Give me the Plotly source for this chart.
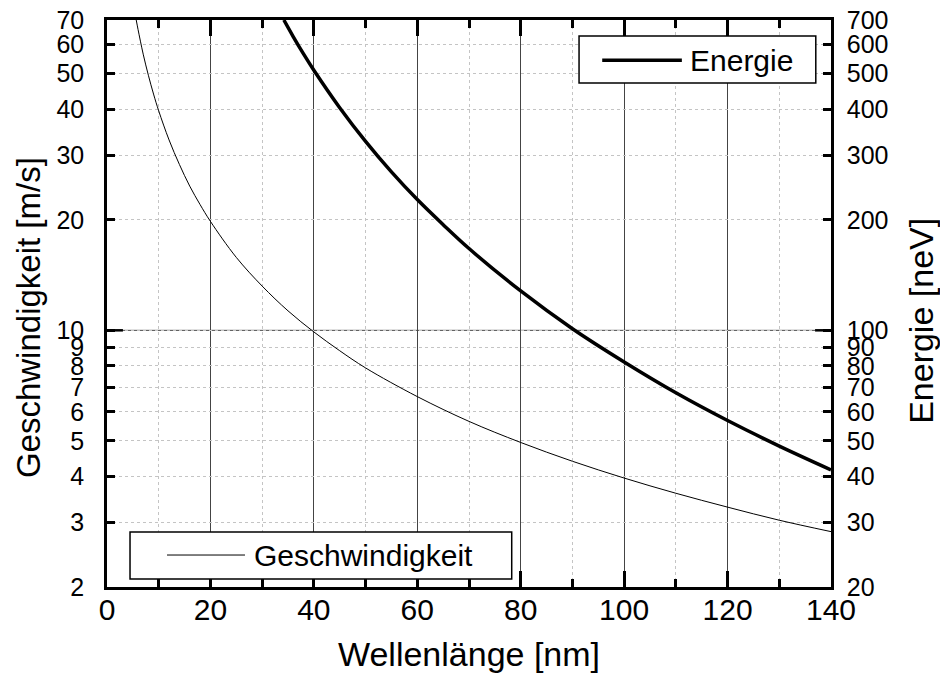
import numpy as np
import plotly.graph_objects as go

# Wavelength [nm] and velocity [m/s]
lam_v = [5.65, 6, 7, 8, 9, 10, 12, 14, 16, 18, 20, 25, 30, 35, 40, 45, 50, 60, 70, 80, 90, 100, 110, 120, 130, 140]
vel = [70, 66, 56.5, 49.5, 44, 39.6, 33, 28.3, 24.7, 22, 19.8, 15.8, 13.2, 11.3, 9.9, 8.8, 7.9, 6.6, 5.65, 4.95, 4.4, 3.96, 3.6, 3.3, 3.04, 2.83]

# Wavelength [nm] and energy [neV]
lam_e = [34.2, 36, 38, 40, 45, 50, 55, 60, 65, 70, 80, 90, 100, 110, 120, 130, 140]
energy = [700, 631, 566, 511, 404, 327, 270, 227, 194, 167, 128, 101, 82, 67.6, 56.8, 48.4, 41.7]

x_major = [0, 20, 40, 60, 80, 100, 120, 140]
x_minor = [10, 30, 50, 70, 90, 110, 130]
y_ticks = [2, 3, 4, 5, 6, 7, 8, 9, 10, 20, 30, 40, 50, 60, 70]
y2_ticks = [20, 30, 40, 50, 60, 70, 80, 90, 100, 200, 300, 400, 500, 600, 700]

FONT = "Liberation Sans, Arial, sans-serif"

fig = go.Figure()
fig.add_trace(go.Scatter(x=lam_v, y=vel, mode="lines", name="Geschwindigkeit",
                         line=dict(color="black", width=1, shape="spline"),
                         yaxis="y", showlegend=False))
fig.add_trace(go.Scatter(x=lam_e, y=energy, mode="lines", name="Energie",
                         line=dict(color="black", width=3.5, shape="spline"),
                         yaxis="y2", showlegend=False))

fig.update_layout(
    width=940, height=689,
    margin=dict(l=107, r=109, t=20, b=102, autoexpand=False),
    paper_bgcolor="white", plot_bgcolor="white",
    font=dict(family=FONT, color="black"),
    xaxis=dict(
        range=[0, 140], tickvals=x_major, ticktext=[str(v) for v in x_major],
        ticks="inside", ticklen=16, tickwidth=2.5, tickcolor="black",
        showline=True, linewidth=2.5, linecolor="black", mirror="ticks",
        showgrid=True, gridcolor="#444444", gridwidth=1,
        tickfont=dict(size=30), ticklabelstandoff=-6,
        minor=dict(tickvals=x_minor, ticks="inside", ticklen=8, tickwidth=2.5,
                   tickcolor="black", showgrid=True, gridcolor="#c4c4c4",
                   griddash="dot", gridwidth=1),
        title=dict(text="Wellenlänge [nm]", font=dict(size=34), standoff=18),
        zeroline=False, automargin=False,
    ),
    yaxis=dict(
        type="log", range=[np.log10(2), np.log10(70)],
        tickvals=y_ticks, ticktext=[str(v) for v in y_ticks],
        ticks="inside", ticklen=8, tickwidth=2.5, tickcolor="black",
        showline=True, linewidth=2.5, linecolor="black",
        showgrid=True, gridcolor="#c4c4c4", griddash="dot", gridwidth=1,
        tickfont=dict(size=25), ticklabelstandoff=15,
        zeroline=False, automargin=False,
    ),
    yaxis2=dict(
        type="log", range=[np.log10(20), np.log10(700)], overlaying="y", side="right",
        anchor="x",
        tickvals=y2_ticks, ticktext=[str(v) for v in y2_ticks],
        ticks="inside", ticklen=8, tickwidth=2.5, tickcolor="black",
        showline=True, linewidth=2.5, linecolor="black",
        showgrid=False, tickfont=dict(size=25), ticklabelstandoff=8,
        zeroline=False, automargin=False,
    ),
    showlegend=False,
)

shapes = [
    # solid horizontal grid line at 10 m/s
    dict(type="line", xref="paper", yref="y", x0=0, x1=1, y0=10, y1=10,
         line=dict(color="#444444", width=1), layer="below"),
    # longer ticks at 10 m/s / 100 neV
    dict(type="line", xref="paper", yref="y", x0=0, x1=0.022, y0=10, y1=10,
         line=dict(color="black", width=2.5), layer="above"),
    dict(type="line", xref="paper", yref="y", x0=0.978, x1=1, y0=10, y1=10,
         line=dict(color="black", width=2.5), layer="above"),
    # legend: Energie
    dict(type="rect", xref="paper", yref="paper", x0=0.652, x1=0.979, y0=0.889, y1=0.972,
         fillcolor="white", line=dict(color="black", width=1.5), layer="above"),
    dict(type="line", xref="paper", yref="paper", x0=0.684, x1=0.794, y0=0.929, y1=0.929,
         line=dict(color="black", width=3.5), layer="above"),
    # legend: Geschwindigkeit
    dict(type="rect", xref="paper", yref="paper", x0=0.0318, x1=0.559, y0=0.0141, y1=0.097,
         fillcolor="white", line=dict(color="black", width=1.5), layer="above"),
    dict(type="line", xref="paper", yref="paper", x0=0.0829, x1=0.1906, y0=0.0564, y1=0.0564,
         line=dict(color="black", width=1), layer="above"),
]
fig.update_layout(shapes=shapes)

fig.add_annotation(xref="paper", yref="paper", x=0.803, y=0.929, text="Energie",
                   showarrow=False, xanchor="left", yanchor="middle", font=dict(size=30))
fig.add_annotation(xref="paper", yref="paper", x=0.200, y=0.0564, text="Geschwindigkeit",
                   showarrow=False, xanchor="left", yanchor="middle", font=dict(size=30))
# axis titles for the two y axes
fig.add_annotation(xref="paper", yref="paper", x=-0.109, y=0.4744, text="Geschwindigkeit [m/s]",
                   textangle=-90, showarrow=False, xanchor="center", yanchor="middle",
                   font=dict(size=33))
fig.add_annotation(xref="paper", yref="paper", x=1.124, y=0.469, text="Energie [neV]",
                   textangle=-90, showarrow=False, xanchor="center", yanchor="middle",
                   font=dict(size=34))

fig.write_html("out.html", config={"displayModeBar": False},
               post_script="document.body.style.margin='0';")
